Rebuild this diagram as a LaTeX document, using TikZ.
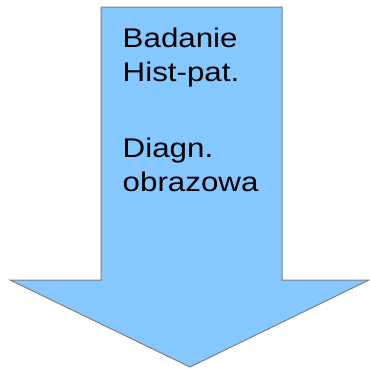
\documentclass[tikz,border=0pt]{standalone}
\usepackage{fontspec}
\setmainfont[FakeStretch=1.16]{Liberation Sans}
\definecolor{arrowfill}{RGB}{133,199,255}
\definecolor{arrowline}{RGB}{128,128,128}
\begin{document}
\begin{tikzpicture}[x=1pt,y=-1pt,
  bigarrow/.style={fill=arrowfill,draw=arrowline,line width=1pt,line join=miter},
  label/.style={font=\fontsize{27}{34}\selectfont,align=left,inner sep=0pt,anchor=base west}]
\useasboundingbox (0,0) rectangle (370,368);
\draw[bigarrow] (101,7) coordinate (tl) -- (282,7) -- (282,280) -- (369,280) -- (190,367) coordinate (tip) -- (10,280) -- (101,280) -- cycle;
\node[label] (txt) at (122.5,191) {Badanie\\Hist-pat.\\[42pt]Diagn.\\obrazowa};
\end{tikzpicture}
\end{document}
